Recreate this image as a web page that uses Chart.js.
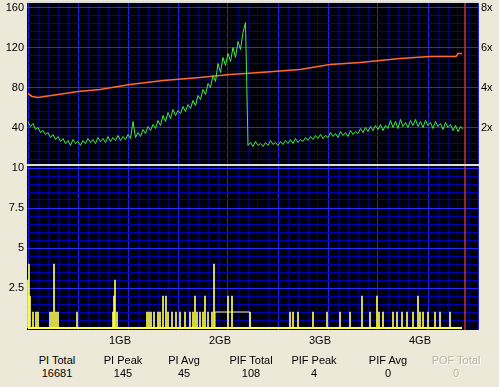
<!DOCTYPE html>
<html>
<head>
<meta charset="utf-8">
<script src="https://cdn.jsdelivr.net/npm/chart.js@4.4.0/dist/chart.umd.min.js"></script>
<style>
  body { margin: 0; background: #ece9d8; width: 499px; height: 387px; overflow: hidden;
         font-family: "Liberation Sans", Arial, sans-serif; font-size: 11px; color: #000; }
  #topChart { position: absolute; left: 0; top: 0; }
  #bottomChart { position: absolute; left: 0; top: 150px; }
  .stat { position: absolute; top: 354px; width: 70px; margin-left: -35px; text-align: center; line-height: 13px; }
  .off { color: #b8b4a4; text-shadow: 1px 1px 0 #fff; }
</style>
</head>
<body>
<canvas id="topChart" width="499" height="167"></canvas>
<canvas id="bottomChart" width="499" height="202"></canvas>
<div id="stats"></div>
<script>
// PI errors, one sample every 0.025 GB
const piStep = 0.025;
const piValues = [
  46, 41, 44, 38, 40, 35, 37, 33,
  35, 30, 33, 28, 31, 26, 29, 24,
  27, 22, 28, 24, 26, 22, 27, 24,
  29, 25, 28, 24, 30, 26, 29, 25,
  31, 26, 30, 27, 32, 27, 31, 28,
  33, 29, 46, 30, 35, 31, 38, 34,
  41, 37, 43, 39, 47, 42, 52, 46,
  55, 49, 58, 52, 57, 54, 61, 56,
  63, 59, 67, 62, 72, 68, 78, 73,
  84, 80, 92, 86, 104, 95, 110, 102,
  114, 106, 120, 110, 126, 118, 135, 145,
  22, 25, 21, 26, 22, 24, 21, 25,
  22, 27, 23, 25, 22, 26, 23, 27,
  24, 28, 24, 29, 25, 28, 26, 30,
  27, 31, 28, 32, 29, 33, 29, 32,
  30, 35, 31, 34, 30, 36, 32, 35,
  31, 37, 33, 36, 34, 39, 35, 40,
  36, 41, 37, 42, 38, 43, 37, 42,
  39, 47, 40, 46, 39, 48, 41, 45,
  40, 47, 42, 48, 41, 46, 40, 47,
  42, 45, 39, 46, 41, 44, 38, 45,
  40, 43, 37, 42, 36, 41, 38
];

// read speed (x)
const speedGB = [0, 0.04, 0.1, 0.3, 0.5, 0.72, 1.02, 1.35, 1.72, 2.02, 2.32, 2.72, 3.02, 3.32, 3.72, 4.02, 4.28, 4.3, 4.34];
const speedX  = [3.7, 3.55, 3.5, 3.65, 3.8, 3.9, 4.15, 4.35, 4.5, 4.65, 4.75, 4.9, 5.15, 5.25, 5.45, 5.55, 5.55, 5.7, 5.7];

// PIF spikes
const pifGB = [0.00, 0.01, 0.02, 0.05, 0.08, 0.10, 0.22, 0.24, 0.26, 0.28, 0.30, 0.49,
  0.85, 0.86, 0.87, 0.89, 1.19, 1.21, 1.23, 1.26, 1.30, 1.32, 1.35, 1.38, 1.40, 1.44,
  1.48, 1.52, 1.57, 1.62, 1.65, 1.67, 1.69, 1.72, 1.75, 1.77, 1.80, 1.84, 1.86,
  2.00, 2.04, 2.62, 2.65, 2.70, 2.85, 2.99, 3.12, 3.22, 3.34, 3.42, 3.49, 3.51, 3.55,
  3.65, 3.69, 3.74, 3.79, 3.85, 3.90, 3.92, 3.95, 4.00, 4.07, 4.12, 4.22];
const pifValues = [3, 4, 2, 1, 1, 1, 1, 1, 4, 1, 1, 1,
  1, 2, 3, 1, 1, 1, 1, 1, 1, 1, 2, 2, 1, 1,
  1, 1, 1, 1, 1, 2, 1, 1, 1, 2, 1, 1, 4,
  2, 2, 1, 1, 1, 1, 1, 1, 1, 2, 1, 2, 1, 1,
  1, 1, 1, 1, 1, 2, 1, 1, 1, 1, 1, 1];
// stretch where PIF stays at 1
const pifRunGB = [1.87, 2.22];
const pifRunValue = 1;

const discEnd = 4.37;
const dataEnd = 4.34;

const piTicks = [40, 80, 120, 160];
const speedTickValues = [2, 4, 6, 8];
const speedLabels = ['2x', '4x', '6x', '8x'];
const pifTicks = [2.5, 5, 7.5, 10];
const gbTickValues = [1, 2, 3, 4];
const gbLabels = ['1GB', '2GB', '3GB', '4GB'];

const statNames  = ['PI Total', 'PI Peak', 'PI Avg', 'PIF Total', 'PIF Peak', 'PIF Avg', 'POF Total'];
const statValues = ['16681', '145', '45', '108', '4', '0', '0'];
const statX = [57, 123, 184, 251, 314, 388, 456];

const piMin = 3.5, piMax = 164.5;
const pifMin = -0.125, pifMax = 10.125;
const gbMin = -0.01, gbMax = 4.5;

const near = (list, v) => list.findIndex(t => Math.abs(t - v) < 1e-6);
const isMultiple = (v, m) => Math.abs(v / m - Math.round(v / m)) < 1e-6;
function steps(from, to, step) {
  const out = [];
  for (let k = 0; from + k * step <= to + 1e-9; k++) out.push({ value: Math.round((from + k * step) * 1000) / 1000 });
  return out;
}
const tickVal = c => (c.tick ? c.tick.value : NaN);
const NONE = 'rgba(0,0,0,0)';

const FONT = { family: '"Liberation Sans", Arial, sans-serif', size: 11 };

const panelBg = {
  id: 'panelBg',
  beforeDraw(chart) {
    const { ctx, chartArea: a } = chart;
    ctx.save();
    ctx.fillStyle = '#00000a';
    ctx.fillRect(a.left, a.top, a.right - a.left, a.bottom - a.top);
    ctx.restore();
  },
  afterDraw(chart) {
    const { ctx, chartArea: a } = chart;
    ctx.save();
    ctx.fillStyle = '#dcdcdc';
    ctx.fillRect(a.left, a.top - 2, a.right - a.left, 2);
    ctx.restore();
  }
};

function fitY(width) {
  return s => { s.width = width; s.paddingTop = 0; s.paddingBottom = 0; };
}

function xScale(showLabels) {
  return {
    type: 'linear', min: gbMin, max: gbMax, offset: false,
    afterBuildTicks: s => { s.ticks = steps(0, 4.5, 0.1); },
    afterFit: s => { s.height = showLabels ? 22 : 0; s.paddingLeft = 0; s.paddingRight = 0; },
    border: { display: false },
    grid: {
      drawTicks: false, offset: false,
      color: c => (isMultiple(tickVal(c), 0.5) ? '#2020e0' : isNaN(tickVal(c)) ? NONE : '#000070')
    },
    ticks: {
      display: showLabels, autoSkip: false, maxRotation: 0,
      padding: 4, labelOffset: -8, color: '#000', font: FONT,
      callback: v => { const i = near(gbTickValues, v); return i >= 0 ? gbLabels[i] : ''; }
    }
  };
}

new Chart(document.getElementById('topChart'), {
  type: 'line',
  data: {
    datasets: [
      {
        data: piValues.map((v, i) => ({ x: i * piStep, y: v })),
        borderColor: '#40ee40', borderWidth: 1, pointRadius: 0, tension: 0, yAxisID: 'y'
      },
      {
        data: speedGB.map((g, i) => ({ x: g, y: speedX[i] })),
        borderColor: '#ff6a28', borderWidth: 1.6, pointRadius: 0, tension: 0, yAxisID: 'y2'
      },
      {
        data: [{ x: discEnd, y: piMin }, { x: discEnd, y: piMax }],
        borderColor: '#c83232', borderWidth: 1.5, pointRadius: 0, yAxisID: 'y'
      }
    ]
  },
  options: {
    responsive: false, animation: false,
    layout: { padding: { top: 3, bottom: 3, left: 0, right: 0 } },
    plugins: { legend: { display: false }, tooltip: { enabled: false } },
    scales: {
      x: xScale(false),
      y: {
        min: piMin, max: piMax,
        afterBuildTicks: s => { s.ticks = steps(8, 160, 8); },
        afterFit: fitY(27),
        border: { display: false },
        grid: {
          drawTicks: false,
          color: c => (isMultiple(tickVal(c), 40) ? '#2828ff' : isNaN(tickVal(c)) ? NONE : '#0000b0')
        },
        ticks: {
          autoSkip: false, padding: 3, color: '#000', font: FONT,
          callback: v => (near(piTicks, v) >= 0 ? String(v) : '')
        }
      },
      y2: {
        position: 'right', min: piMin / 20, max: piMax / 20,
        afterBuildTicks: s => { s.ticks = speedTickValues.map(v => ({ value: v })); },
        afterFit: fitY(21),
        border: { display: false },
        grid: { display: false, drawTicks: false },
        ticks: {
          autoSkip: false, padding: 3, color: '#000', font: FONT,
          callback: v => { const i = near(speedTickValues, v); return i >= 0 ? speedLabels[i] : ''; }
        }
      }
    }
  },
  plugins: [panelBg]
});

new Chart(document.getElementById('bottomChart'), {
  type: 'bar',
  data: {
    datasets: [
      {
        type: 'bar',
        data: pifGB.map((g, i) => ({ x: g, y: pifValues[i] })),
        backgroundColor: '#ffff50', barThickness: 1, borderWidth: 0
      },
      {
        type: 'line',
        data: [
          { x: pifRunGB[0], y: 0 }, { x: pifRunGB[0], y: pifRunValue },
          { x: pifRunGB[1], y: pifRunValue }, { x: pifRunGB[1], y: 0 }
        ],
        borderColor: '#ffff50', borderWidth: 1, pointRadius: 0, tension: 0
      },
      {
        type: 'line',
        data: [{ x: 0, y: 0 }, { x: dataEnd, y: 0 }],
        borderColor: '#ffff50', borderWidth: 2, pointRadius: 0
      },
      {
        type: 'line',
        data: [{ x: discEnd, y: pifMin }, { x: discEnd, y: pifMax }],
        borderColor: '#c83232', borderWidth: 1.5, pointRadius: 0
      }
    ]
  },
  options: {
    responsive: false, animation: false,
    layout: { padding: { top: 16, bottom: 0, left: 0, right: 21 } },
    plugins: { legend: { display: false }, tooltip: { enabled: false } },
    scales: {
      x: xScale(true),
      y: {
        min: pifMin, max: pifMax,
        afterBuildTicks: s => { s.ticks = steps(0.5, 10, 0.5); },
        afterFit: fitY(27),
        border: { display: false },
        grid: {
          drawTicks: false,
          color: c => (isMultiple(tickVal(c), 2.5) ? '#2828ff' : isNaN(tickVal(c)) ? NONE : '#0000b0')
        },
        ticks: {
          autoSkip: false, padding: 3, color: '#000', font: FONT,
          callback: v => (near(pifTicks, v) >= 0 ? String(v) : '')
        }
      }
    }
  },
  plugins: [panelBg]
});

const stats = document.getElementById('stats');
statNames.forEach((name, i) => {
  const d = document.createElement('div');
  d.className = 'stat' + (i === statNames.length - 1 ? ' off' : '');
  d.style.left = statX[i] + 'px';
  d.innerHTML = name + '<br>' + statValues[i];
  stats.appendChild(d);
});
</script>
</body>
</html>
